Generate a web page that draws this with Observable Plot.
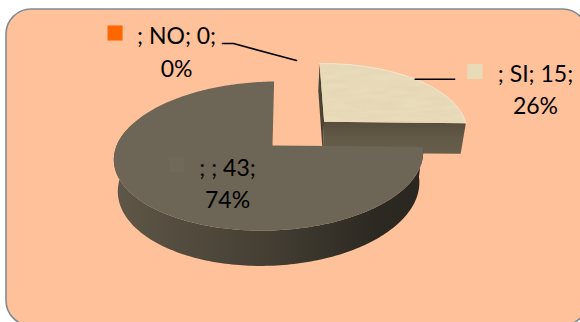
<!DOCTYPE html>
<html>
<head>
<meta charset="utf-8">
<script src="https://cdn.jsdelivr.net/npm/d3@7"></script>
<script src="https://cdn.jsdelivr.net/npm/@observablehq/plot@0.6"></script>
<style>
  html, body { margin: 0; padding: 0; background: #fff; }
  svg { display: block; }
</style>
</head>
<body>
<script>
// Survey answers
const categories = ["SI", "NO", ""];
const answers = [15, 0, 43];

// Exploded offset of each slice on the pie's plane, in radii
const explodeU = [0.352, 0, 0];
const explodeV = [0.33, 0, 0];

// Label anchors and legend key centres, in pie units
const labelU = [1.719, -0.627, -0.294];
const labelV = [0.425, 0.945, -0.863];
const keyU = [1.323, -1.029, -0.627];
const keyV = [1.014, 1.541, -0.267];
const keyFill = ["#e8dbb8", "#ff6600", "#706858"];

// Callout leader of the empty slice, in pie units
const leaderNO = [{x: -0.327, y: 1.397}, {x: -0.255, y: 1.397}, {x: 0.157, y: 1.164}];

// Tilted view of the pie: far side shrinks, right side shrinks a touch, wall tapers
const tilt = 0.141, lean = 0.024, skew = 0.012, roll = 0.035, wall = 0.415, taper = 0.025;
function project(u, v, z = 0) {
  const w = 1 / (1 + tilt * v + lean * u);
  return {x: (u + skew * v) * w * (1 - taper * z), y: v * w + roll * u - wall * z * w};
}

const total = d3.sum(answers);
const arcs = d3.pie().sort(null).value(d => d)(answers);
const labels = answers.map((d, i) => `; ${categories[i]}; ${d};\n${Math.round(d / total * 100)}%`);

// Rim of a slice from angle a0 to a1 (clockwise from twelve o'clock)
function rim(i, a0, a1, z = 0) {
  const n = Math.max(2, Math.ceil(Math.abs(a1 - a0) / 0.02));
  return d3.range(n + 1).map(j => {
    const a = a0 + (a1 - a0) * j / n;
    return project(explodeU[i] + Math.sin(a), explodeV[i] + Math.cos(a), z);
  });
}
const apex = (i, z = 0) => project(explodeU[i], explodeV[i], z);

const si = arcs[0], rest = arcs[2];

// Top faces
const siTop = [apex(0), ...rim(0, si.startAngle, si.endAngle)];
const restTop = [apex(2), ...rim(2, rest.startAngle, rest.endAngle)];

// Side walls; the detached slice sits a little deeper on screen
const siDepth = 1.08;
const siCorner = z => project(explodeU[0] + Math.sin(si.endAngle), explodeV[0] + Math.cos(si.endAngle), z);
const siCut = [apex(0), siCorner(0), siCorner(siDepth), apex(0, siDepth)];
const siBack = [apex(0), project(explodeU[0], explodeV[0] + 1), project(explodeU[0], explodeV[0] + 1, siDepth), apex(0, siDepth)];
const restOuterEnd = Math.PI * 1.58;
const restWall = [...rim(2, rest.startAngle, restOuterEnd), ...rim(2, restOuterEnd, rest.startAngle, 1)];

const siMid = (si.startAngle + si.endAngle) / 2;
const siEdge = project(explodeU[0] + Math.sin(siMid), explodeV[0] + Math.cos(siMid));
const leaderSI = [siEdge, {x: siEdge.x + 0.258, y: siEdge.y}];

// Gradient for the curved wall, shading for the cut face and a grain for the light slice
function defs() {
  const d = d3.create("svg:defs");
  const g = d.append("linearGradient").attr("id", "wallShade");
  [[0, "#5f5747"], [0.5, "#443e33"], [0.85, "#2c2922"], [1, "#2a2720"]].forEach(([o, c]) =>
    g.append("stop").attr("offset", o).attr("stop-color", c));
  const s = d.append("linearGradient").attr("id", "cutShade").attr("x2", 0).attr("y2", 1);
  [[0, "#564d3c"], [0.5, "#625947"], [1, "#665d4b"]].forEach(([o, c]) =>
    s.append("stop").attr("offset", o).attr("stop-color", c));
  const f = d.append("filter").attr("id", "sand").attr("x", 0).attr("y", 0).attr("width", 1).attr("height", 1);
  f.append("feTurbulence").attr("type", "fractalNoise").attr("baseFrequency", "0.04 0.2")
    .attr("numOctaves", 3).attr("seed", 7).attr("result", "n");
  f.append("feColorMatrix").attr("in", "n").attr("type", "matrix")
    .attr("values", "0 0 0 0 0.70  0 0 0 0 0.58  0 0 0 0 0.38  0.55 0 0 0 -0.18").attr("result", "tint");
  f.append("feComposite").attr("in", "tint").attr("in2", "SourceAlpha").attr("operator", "in").attr("result", "grain");
  const m = f.append("feMerge");
  m.append("feMergeNode").attr("in", "SourceGraphic");
  m.append("feMergeNode").attr("in", "grain");
  return d.node();
}

const face = (pts, fill, extra = {}) => Plot.line(pts, {x: "x", y: "y", fill, stroke: "none", ...extra});

const plot = Plot.plot({
  width: 580,
  height: 322,
  margin: 0,
  x: {domain: [-1, 1], range: [272 - 153, 272 + 153], axis: null},
  y: {domain: [-1, 1], range: [145 + 73, 145 - 73], axis: null},
  style: {background: "#fff", fontFamily: "Lato, 'Noto Sans', sans-serif"},
  marks: [
    defs,
    Plot.frame({
      fill: "#fec19a", stroke: "#828b90", strokeWidth: 1.6, rx: 25,
      insetLeft: 5.5, insetTop: 8.5, insetRight: -7, insetBottom: -3
    }),
    face(siBack, "#4a4335"),
    face(siCut, "url(#cutShade)"),
    face(siTop, "#e9dcba", {imageFilter: "url(#sand)"}),
    Plot.line(rim(0, si.startAngle, si.endAngle), {x: "x", y: "y", stroke: "#efe8d2", strokeWidth: 1}),
    face(restWall, "url(#wallShade)"),
    face(restTop, "#6d6555"),
    Plot.dot(answers, {
      x: (d, i) => keyU[i], y: (d, i) => keyV[i],
      symbol: "square", r: 8.5, fill: (d, i) => keyFill[i], stroke: "none"
    }),
    Plot.line(leaderSI, {x: "x", y: "y", stroke: "#000", strokeWidth: 1.6}),
    Plot.line(leaderNO, {x: "x", y: "y", stroke: "#000", strokeWidth: 1.6}),
    Plot.text(labels, {
      x: (d, i) => labelU[i], y: (d, i) => labelV[i],
      text: d => d, textAnchor: "middle", lineAnchor: "bottom",
      fontSize: 23, lineHeight: 1.4, fill: "#000"
    })
  ]
});
plot.setAttribute("color", "#000");
document.body.appendChild(plot);
</script>
</body>
</html>
